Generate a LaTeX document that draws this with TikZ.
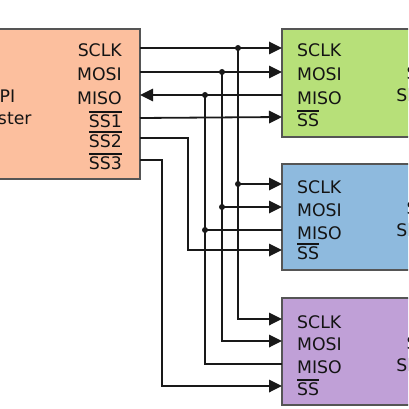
\documentclass[tikz,border=0pt]{standalone}
\usepackage{fontspec}
\setmainfont{DejaVu Sans}
\usetikzlibrary{arrows.meta}
\definecolor{mfill}{RGB}{252,191,158}
\definecolor{gfill}{RGB}{183,224,121}
\definecolor{bfill}{RGB}{142,186,222}
\definecolor{pfill}{RGB}{192,160,215}
\definecolor{boxline}{RGB}{85,85,85}
\definecolor{wirec}{RGB}{25,25,25}
\definecolor{txt}{RGB}{20,20,20}
\newcommand\ovbar[1]{\leavevmode\vbox{\hrule height 1.5pt\kern 1.6pt\hbox{#1}}}
\begin{document}
\begin{tikzpicture}[x=1pt,y=-1pt,
  box/.style={draw=boxline, line width=1.8pt, rectangle, inner sep=0pt},
  lbl/.style={font=\fontsize{17.3}{22}\selectfont, text=txt, inner sep=0pt},
  wire/.style={line width=1.8pt, draw=wirec},
  arr/.style={wire, -{Triangle[length=13pt,width=12.5pt]}},
  jdot/.style={circle, fill=wirec, inner sep=0pt, minimum size=6pt}]
\useasboundingbox (0,0) rectangle (408,409);
\clip (0,0) rectangle (408,409);
% boxes
\node[box, fill=mfill, minimum width=150pt, minimum height=150pt] (master) at (65,104) {};
\node[box, fill=gfill, minimum width=148pt, minimum height=108pt] (slave1) at (356,83) {};
\node[box, fill=bfill, minimum width=148pt, minimum height=106pt] (slave2) at (356,217) {};
\node[box, fill=pfill, minimum width=148pt, minimum height=107pt] (slave3) at (356,351.5) {};
% names
\node[lbl, align=center] (mname) at (2,107) {SPI\\Master};
\node[lbl, align=center] (s1name) at (420,84) {SPI\\Slave};
\node[lbl, align=center] (s2name) at (420,219) {SPI\\Slave};
\node[lbl, align=center] (s3name) at (420,354) {SPI\\Slave};
% master labels
\node[lbl, anchor=base east] (mlS) at (122,57) {SCLK};
\node[lbl, anchor=base east] (mlM) at (122,81) {MOSI};
\node[lbl, anchor=base east] (mlI) at (122,104) {MISO};
\node[lbl, anchor=base east] (ml1) at (122,127) {\ovbar{SS1}};
\node[lbl, anchor=base east] (ml2) at (122,147) {\ovbar{SS2}};
\node[lbl, anchor=base east] (ml3) at (122,169) {\ovbar{SS3}};
% slave labels
\foreach \k/\a/\b/\c/\d in {1/48/72/95/117, 2/184/207/230/250, 3/319/341/364/386}{
  \node[lbl, anchor=base west] (s\k lS) at (297,\a+9) {SCLK};
  \node[lbl, anchor=base west] (s\k lM) at (297,\b+9) {MOSI};
  \node[lbl, anchor=base west] (s\k lI) at (297,\c+9) {MISO};
  \node[lbl, anchor=base west] (s\k lE) at (297,\d+9) {\ovbar{SS}};
  \coordinate (s\k SCLK) at (282,\a);
  \coordinate (s\k MOSI) at (282,\b);
  \coordinate (s\k MISO) at (282,\c);
  \coordinate (s\k SS) at (282,\d);
}
% master pins
\coordinate (mSCLK) at (140,48);
\coordinate (mMOSI) at (140,72);
\coordinate (mMISO) at (140,95);
\coordinate (mSS1) at (140,118);
\coordinate (mSS2) at (140,138);
\coordinate (mSS3) at (140,160);
% junctions and bends
\coordinate (jS1) at (238,48);
\coordinate (jS2) at (238,184);
\coordinate (jM1) at (222,72);
\coordinate (jM2) at (222,207);
\coordinate (jI1) at (205,95);
\coordinate (jI2) at (205,230);
\coordinate (k2) at (188,250);
\coordinate (k3) at (162,386);
% wires
\draw[arr] (mSCLK) -- (s1SCLK);
\draw[arr] (mMOSI) -- (s1MOSI);
\draw[arr] (s1MISO) -- (mMISO);
\draw[arr] (mSS1) -- (s1SS);
\draw[arr] (mSS2) -| (k2) -- (s2SS);
\draw[arr] (mSS3) -| (k3) -- (s3SS);
\draw[arr] (jS1) |- (s3SCLK);
\draw[arr] (jS2) -- (s2SCLK);
\draw[arr] (jM1) |- (s3MOSI);
\draw[arr] (jM2) -- (s2MOSI);
\draw[wire] (s3MISO) -| (jI1);
\draw[wire] (s2MISO) -- (jI2);
\foreach \j in {jS1,jS2,jM1,jM2,jI1,jI2}{\node[jdot] at (\j) {};}
\end{tikzpicture}
\end{document}
